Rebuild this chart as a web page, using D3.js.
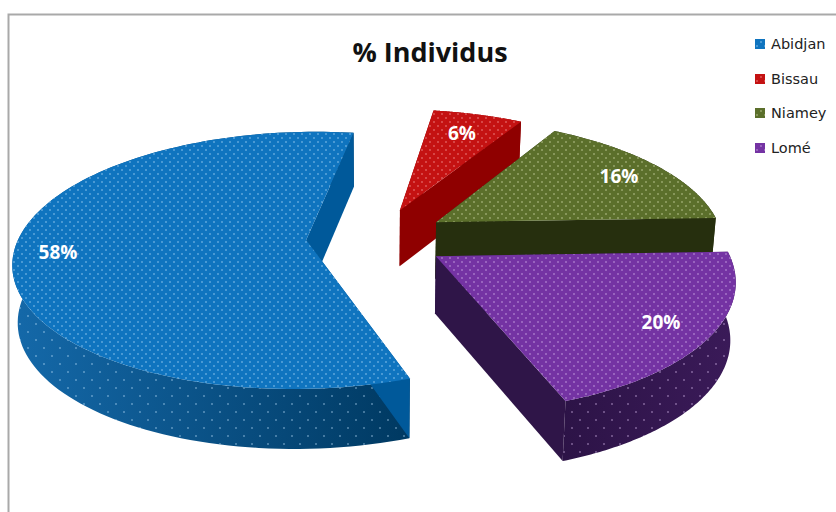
<!DOCTYPE html>
<html><head><meta charset="utf-8">
<script src="https://cdn.jsdelivr.net/npm/d3@7/dist/d3.min.js"></script>
<style>html,body{margin:0;padding:0;background:#fff}svg{display:block}</style>
</head><body><svg id="c" width="836" height="512"></svg>
<script>
const categories = ["Abidjan","Bissau","Niamey","Lomé"];
const values = [58,6,16,20];
const title = "% Individus";
// explosion of each slice on the pie's ground plane (radius = 1)
const explodeX = [-0.239,0.09,0.217,0.207];
const explodeY = [0.04,0.287,0.185,-0.087];
const labelX = [58,462,619,661];
const labelY = [252,133,176,322];
const legendY = [44,79,113,148];
const topColors = ["#0f74bf","#c41212","#5b6f2b","#7433a3"];
const cutColors = ["#00599a","#8f0000","#262f0e","#2f1548"];
const rimLeft = ["#1468a8","#8f0000","#262f0e","#3a1a58"];
const rimRight = ["#003a63","#8f0000","#262f0e","#2c1346"];
const dotColors = ["#bfe3ff","#ffb0b0","#dfe8b8","#e0c4f4"];

const svg = d3.select("#c");
const defs = svg.append("defs");
const color = d3.scaleOrdinal(categories, topColors);
const cutColor = d3.scaleOrdinal(categories, cutColors);
const dotColor = d3.scaleOrdinal(categories, dotColors);

// perspective projection
const vx=375, vy=245, A=290, B=127, P=0.16;
function project(x,y,z){
  const w=1+P*y;
  let X=vx+A*x/w, Y=vy-B*y/w;
  if(z){ const h=57-3*y; Y+=h; X=vx+(X-vx)*0.985; }
  return [X,Y];
}
const line=d3.line();
const pie=d3.pie().sort(null).startAngle(160*Math.PI/180).endAngle((160+360)*Math.PI/180);
const arcs=pie(values).map((a,i)=>({...a,name:categories[i],i,ox:explodeX[i],oy:explodeY[i]}));

categories.forEach((n,i)=>{
  const mk=(id,fill,w,h,r,op)=>{
    const p=defs.append("pattern").attr("id",id).attr("patternUnits","userSpaceOnUse").attr("width",w).attr("height",h);
    p.append("rect").attr("width",w).attr("height",h).attr("fill",fill);
    [[w*0.25,h*0.25],[w*0.75,h*0.75]].forEach(c=>p.append("circle").attr("cx",c[0]).attr("cy",c[1]).attr("r",r).attr("fill",dotColor(n)).attr("opacity",op));
  };
  mk("top"+i,topColors[i],8,8,0.8,0.75);
  const g=defs.append("linearGradient").attr("id","rg"+i).attr("gradientUnits","userSpaceOnUse")
    .attr("x1",i==0?20:i==3?557:0).attr("x2",i==0?400:i==3?730:800).attr("y1",0).attr("y2",0);
  g.append("stop").attr("offset",0).attr("stop-color",i==3?rimRight[i]:rimLeft[i]);
  g.append("stop").attr("offset",1).attr("stop-color",i==3?rimLeft[i]:rimRight[i]);
  const wp=defs.append("pattern").attr("id","rim"+i).attr("patternUnits","userSpaceOnUse").attr("width",16).attr("height",16);
  wp.append("rect").attr("width",16).attr("height",16).attr("fill","url(#rg"+i+")");
  const rp=defs.append("pattern").attr("id","rimdots"+i).attr("patternUnits","userSpaceOnUse").attr("width",16).attr("height",16);
  [[4,4],[12,12]].forEach(c=>rp.append("circle").attr("cx",c[0]).attr("cy",c[1]).attr("r",1).attr("fill",dotColor(n)).attr("opacity",0.45));
});

const pts=(d,t)=>{const a=d.startAngle+(d.endAngle-d.startAngle)*t;return [d.ox+Math.sin(a),d.oy+Math.cos(a)];};
const order=arcs.slice().sort((a,b)=>b.oy-a.oy);
const ts=d3.range(0,1.0001,1/120);

order.forEach(d=>{
  const g=svg.append("g").attr("class","slice");
  const rimTop=ts.map(t=>{const p=pts(d,t);return project(p[0],p[1],false);});
  const rimBot=ts.map(t=>{const p=pts(d,t);return project(p[0],p[1],true);}).reverse();
  const rimPath=line(rimTop.concat(rimBot))+"Z";
  g.append("path").attr("d",rimPath).attr("fill","url(#rg"+d.i+")");
  g.append("path").attr("d",rimPath).attr("fill","url(#rimdots"+d.i+")");
  [0,1].forEach(t=>{
    const p=pts(d,t);
    const quad=[project(d.ox,d.oy,false),project(p[0],p[1],false),project(p[0],p[1],true),project(d.ox,d.oy,true)];
    g.append("path").attr("d",line(quad)+"Z").attr("fill",cutColor(d.name));
  });
  const topPts=[project(d.ox,d.oy,false)].concat(rimTop);
  g.append("path").attr("d",line(topPts)+"Z").attr("fill","url(#top"+d.i+")");
});

// frame
svg.append("path").attr("d","M836,14.5H8.5V512").attr("fill","none").attr("stroke","#a9a9a9").attr("stroke-width",2);

svg.append("text").attr("x",430).attr("y",62).attr("text-anchor","middle")
  .attr("font-family","'Open Sans'").attr("font-weight",700).attr("font-size",27).attr("fill","#111").text(title);

svg.selectAll("text.lab").data(arcs).join("text").attr("class","lab")
  .attr("x",d=>labelX[d.i]).attr("y",d=>labelY[d.i]+6.5).attr("text-anchor","middle")
  .attr("font-family","'Open Sans'").attr("font-weight",700).attr("font-size",19).attr("fill","#fff")
  .text(d=>d.value+"%");

const leg=svg.selectAll("g.leg").data(categories).join("g").attr("class","leg")
  .attr("transform",(d,i)=>`translate(755,${legendY[i]})`);
leg.append("rect").attr("x",0).attr("y",-5).attr("width",10).attr("height",10).attr("fill",(d,i)=>"url(#top"+i+")");
leg.append("text").attr("x",16).attr("y",5).attr("font-family","'DejaVu Sans'").attr("font-size",14.5).attr("fill","#222").text(d=>d);
</script></body></html>
